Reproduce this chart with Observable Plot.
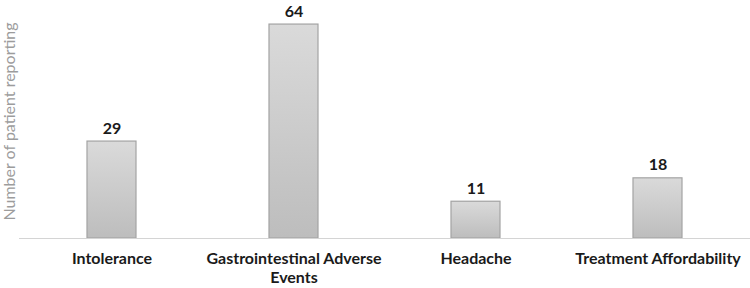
<!DOCTYPE html>
<html>
<head>
<meta charset="utf-8">
<script src="https://cdn.jsdelivr.net/npm/d3@7"></script>
<script src="https://cdn.jsdelivr.net/npm/@observablehq/plot@0.6"></script>
<style>
  html, body { margin: 0; padding: 0; background: #fff; }
  #chart svg { display: block; }
</style>
</head>
<body>
<div id="chart"></div>
<script>
const categories = ["Intolerance", "Gastrointestinal Adverse Events", "Headache", "Treatment Affordability"];
const values = [29, 64, 11, 18];
const tickLabels = ["Intolerance", "Gastrointestinal Adverse\nEvents", "Headache", "Treatment Affordability"];
const yLabel = "Number of patient reporting";

const data = categories.map((c, i) => ({category: c, value: values[i]}));
const labelOf = new Map(categories.map((c, i) => [c, tickLabels[i]]));

const chart = Plot.plot({
  width: 750,
  height: 288,
  marginLeft: 19,
  marginRight: 0,
  marginTop: 4,
  marginBottom: 50,
  style: {fontFamily: "Lato, 'Open Sans', sans-serif", background: "#fff"},
  x: {domain: categories, paddingInner: 0.73, paddingOuter: 0.365, label: null},
  y: {domain: [0, 70], label: null},
  marks: [
    Plot.axisX({
      tickSize: 0,
      tickPadding: 12,
      tickFormat: d => labelOf.get(d),
      fontSize: 16,
      fontWeight: "bold",
      fill: "#1a1a1a",
      lineHeight: 1.2
    }),
    Plot.axisY({ticks: []}),
    Plot.text([yLabel], {
      frameAnchor: "left",
      dx: -10,
      rotate: -90,
      fontSize: 16,
      fill: "#9c9c9c",
      textAnchor: "middle"
    }),
    Plot.barY(data, {
      x: "category",
      y: "value",
      fill: "url(#barGrad)",
      stroke: "#a3a3a3",
      strokeWidth: 1.2
    }),
    Plot.ruleY([0], {stroke: "#d4d4d4", strokeWidth: 1.2}),
    Plot.text(data, {
      x: "category",
      y: "value",
      text: d => String(d.value),
      dy: -8,
      lineAnchor: "bottom",
      fontSize: 16,
      fontWeight: "bold",
      fill: "#1a1a1a"
    })
  ]
});

const svg = d3.select(chart);
const defs = svg.insert("defs", ":first-child");
const grad = defs.append("linearGradient")
  .attr("id", "barGrad")
  .attr("x1", 0).attr("y1", 0).attr("x2", 0).attr("y2", 1);
grad.append("stop").attr("offset", "0%").attr("stop-color", "#dadada");
grad.append("stop").attr("offset", "100%").attr("stop-color", "#bdbdbd");

document.getElementById("chart").appendChild(chart);
</script>
</body>
</html>
